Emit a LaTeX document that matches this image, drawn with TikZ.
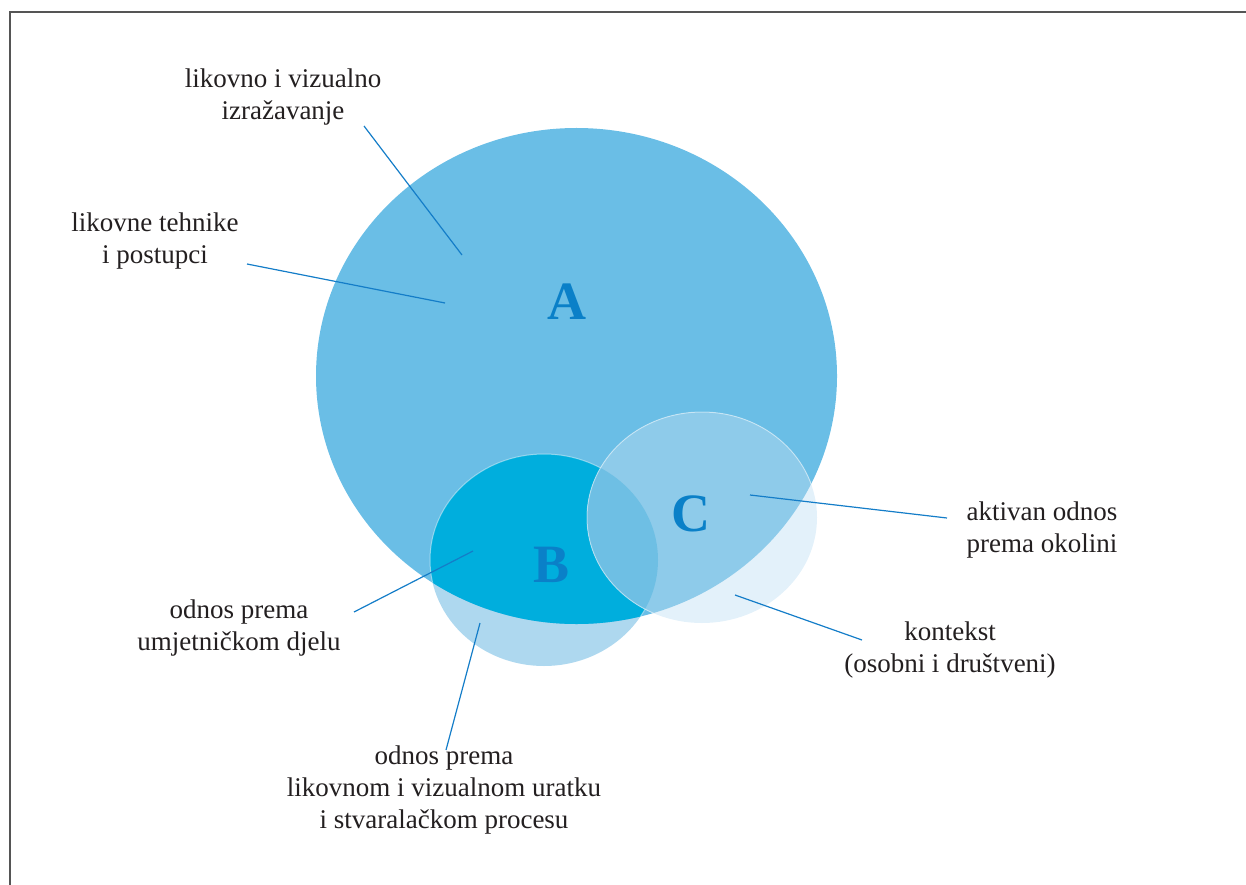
\documentclass[tikz,border=0pt]{standalone}
\usepackage{fontspec}
\setmainfont{Liberation Serif}
\usetikzlibrary{positioning}
\definecolor{frame}{RGB}{85,85,85}
\definecolor{txt}{RGB}{35,31,32}
\definecolor{lead}{RGB}{20,125,200}
\definecolor{letter}{RGB}{10,128,200}
\definecolor{setA}{RGB}{106,190,230}
\definecolor{setB}{RGB}{174,216,239}
\definecolor{setAB}{RGB}{0,174,221}
\definecolor{setC}{RGB}{227,241,250}
\definecolor{setAC}{RGB}{142,203,234}
\definecolor{setABC}{RGB}{110,191,228}

\tikzset{
  label/.style={text=txt, align=center, inner sep=0pt,
                font=\fontsize{27}{32}\selectfont},
  letterbox/.style={text=letter, inner sep=0pt,
                font=\fontsize{54}{54}\selectfont\bfseries},
  leader/.style={lead, line width=1.2pt},
  rim/.style={draw=white, draw opacity=0.45, line width=1pt}
}

\begin{document}
\begin{tikzpicture}[x=1pt,y=-1pt]

\useasboundingbox (0,0) rectangle (1246,885);

% Frame (left and top only)
\draw[frame, line width=1.6pt] (10,885) -- (10,12) -- (1246,12);

%---------------------------------------
% Sets
%---------------------------------------
\def\Ashape{(576.5,376) ellipse [x radius=260.5, y radius=248]}
\def\Bshape{(544,560) ellipse [x radius=114, y radius=106]}
\def\Cshape{(702,517.5) ellipse [x radius=115, y radius=105.5]}

% B below A
\fill[setB] \Bshape;
\fill[setA] \Ashape;

% ---- B inside A ----
\begin{scope}
  \clip \Ashape;
  \fill[setAB] \Bshape;
  \draw[rim] \Bshape;
\end{scope}

% ---- C ----
\fill[setC] \Cshape;
\begin{scope}
  \clip \Ashape;
  \fill[setAC] \Cshape;
  \begin{scope}
    \clip \Bshape;
    \fill[setABC] \Cshape;
  \end{scope}
  \draw[rim] \Cshape;
\end{scope}

% Letters
\node[letterbox] (letA) at (567,302) {A};
\node[letterbox] (letB) at (551,565) {B};
\node[letterbox] (letC) at (691,514) {C};

%---------------------------------------
% Labels
%---------------------------------------
\node[label] (izraz) at (283,97) {likovno i vizualno\\izražavanje};
\node[label] (tehnike) at (155,241) {likovne tehnike\\i postupci};
\node[label] (okolina) at (1042,530) {aktivan odnos\\prema okolini};
\node[label] (kontekst) at (950,650) {kontekst\\(osobni i društveni)};
\node[label] (djelo) at (239,628) {odnos prema\\umjetničkom djelu};
\node[label] (uradak) at (444,790) {odnos prema\\likovnom i vizualnom uratku\\i stvaralačkom procesu};

% Leader ends
\coordinate (izraz-a) at (364,126);   \coordinate (izraz-b) at (462,255);
\coordinate (tehnike-a) at (247,264); \coordinate (tehnike-b) at (445,303);
\coordinate (okolina-a) at (947,518); \coordinate (okolina-b) at (750,495);
\coordinate (kontekst-a) at (862,640); \coordinate (kontekst-b) at (735,595);
\coordinate (djelo-a) at (354,612);   \coordinate (djelo-b) at (473,551);
\coordinate (uradak-a) at (446,750);  \coordinate (uradak-b) at (480,623);

\draw[leader] (izraz-a) -- (izraz-b);
\draw[leader] (tehnike-a) -- (tehnike-b);
\draw[leader] (okolina-a) -- (okolina-b);
\draw[leader] (kontekst-a) -- (kontekst-b);
\draw[leader] (djelo-a) -- (djelo-b);
\draw[leader] (uradak-a) -- (uradak-b);

\end{tikzpicture}
\end{document}
